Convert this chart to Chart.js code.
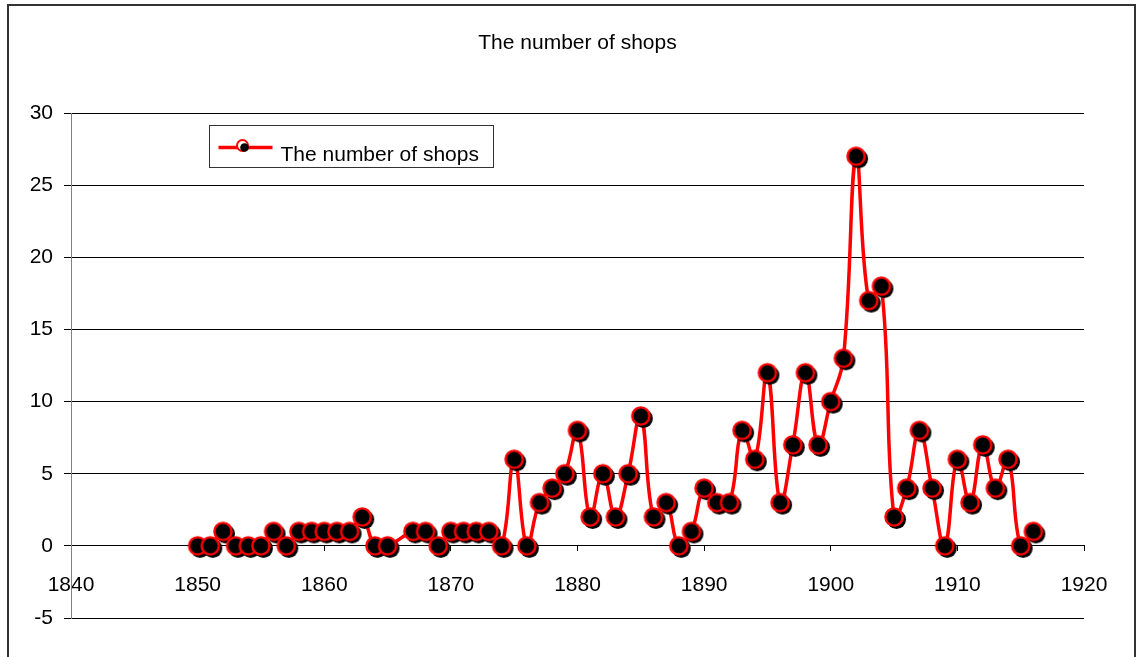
<!DOCTYPE html>
<html lang="en">
<head>
  <meta charset="UTF-8">
  <title>The number of shops</title>
  <script src="https://cdn.jsdelivr.net/npm/chart.js"></script>
  <style>
    html, body { margin: 0; padding: 0; background: #fff; overflow: hidden; }
    .frame { position: absolute; left: 7px; top: 4px; width: 1129px; height: 720px; border: 2px solid #333; box-sizing: border-box; }
    canvas { position: absolute; left: 0; top: 0; }
  </style>
</head>
<body>
  <div class="frame"></div>
  <canvas id="grafico" width="1139" height="657"></canvas>

  <script>
    // yearly counts, 1866 has no entry in the source
    const anos = [
      1850, 1851, 1852, 1853, 1854, 1855, 1856, 1857, 1858, 1859,
      1860, 1861, 1862, 1863, 1864, 1865, 1866, 1867, 1868, 1869,
      1870, 1871, 1872, 1873, 1874, 1875, 1876, 1877, 1878, 1879,
      1880, 1881, 1882, 1883, 1884, 1885, 1886, 1887, 1888, 1889,
      1890, 1891, 1892, 1893, 1894, 1895, 1896, 1897, 1898, 1899,
      1900, 1901, 1902, 1903, 1904, 1905, 1906, 1907, 1908, 1909,
      1910, 1911, 1912, 1913, 1914, 1915, 1916
    ];
    const lojas = [
      0, 0, 1, 0, 0, 0, 1, 0, 1, 1,
      1, 1, 1, 2, 0, 0, null, 1, 1, 0,
      1, 1, 1, 1, 0, 6, 0, 3, 4, 5,
      8, 2, 5, 2, 5, 9, 2, 3, 0, 1,
      4, 3, 3, 8, 6, 12, 3, 7, 12, 7,
      10, 13, 27, 17, 18, 2, 4, 8, 4, 0,
      6, 3, 7, 4, 6, 0, 1
    ];
    const titulo = 'The number of shops';
    const serieNome = 'The number of shops';
    const yTicks = [-5, 0, 5, 10, 15, 20, 25, 30];
    const xTicks = [1840, 1850, 1860, 1870, 1880, 1890, 1900, 1910, 1920];

    const fonte = 'Arial, "Liberation Sans", sans-serif';

    // marker: black disc with red ring and a dark shadow to the lower right
    function criarMarcador() {
      const c = document.createElement('canvas');
      c.width = 30; c.height = 30;
      const g = c.getContext('2d');
      g.fillStyle = '#000';
      g.beginPath(); g.arc(17.5, 17.5, 9.5, 0, Math.PI * 2); g.fill();
      g.beginPath(); g.arc(15, 15, 8.6, 0, Math.PI * 2);
      g.fillStyle = '#000'; g.fill();
      g.lineWidth = 2.4; g.strokeStyle = '#ff0000'; g.stroke();
      return c;
    }

    const legendaPlugin = {
      id: 'legendaCaixa',
      afterDraw(chart) {
        const ctx = chart.ctx;
        const ca = chart.chartArea;
        const x = Math.round(ca.left) + 138.5, y = Math.round(ca.top) + 12.5;
        ctx.save();
        ctx.fillStyle = '#fff';
        ctx.fillRect(x, y, 284, 42);
        ctx.strokeStyle = '#333';
        ctx.lineWidth = 1;
        ctx.strokeRect(x, y, 284, 42);
        ctx.strokeStyle = '#ff0000';
        ctx.lineWidth = 3.5;
        ctx.beginPath(); ctx.moveTo(x + 9, y + 22); ctx.lineTo(x + 63, y + 22); ctx.stroke();
        ctx.beginPath(); ctx.arc(x + 33, y + 20, 5.5, 0, Math.PI * 2);
        ctx.fillStyle = '#fff'; ctx.fill();
        ctx.lineWidth = 2; ctx.stroke();
        ctx.fillStyle = '#000';
        ctx.beginPath(); ctx.arc(x + 35, y + 22, 4.3, 0, Math.PI * 2); ctx.fill();
        ctx.font = '21px ' + fonte;
        ctx.textBaseline = 'alphabetic';
        ctx.textAlign = 'left';
        ctx.fillText(chart.data.datasets[0].label, x + 71, y + 35);
        ctx.restore();
      }
    };

    const ctx = document.getElementById('grafico').getContext('2d');
    const chart = new Chart(ctx, {
      type: 'line',
      data: {
        datasets: [{
          label: serieNome,
          data: anos.map((a, i) => ({ x: a, y: lojas[i] })),
          borderColor: '#ff0000',
          borderWidth: 3.5,
          tension: 0.42,
          spanGaps: true,
          pointStyle: criarMarcador(),
          pointRadius: 9,
          pointHoverRadius: 9
        }]
      },
      options: {
        responsive: false,
        animation: false,
        devicePixelRatio: 1,
        layout: { padding: { left: 0, right: 55, top: 0, bottom: 39 } },
        plugins: {
          legend: { display: false },
          tooltip: { enabled: false },
          title: {
            display: true,
            text: titulo,
            fullSize: false,
            color: '#000',
            font: { family: fonte, size: 21, weight: 'normal', lineHeight: '25px' },
            padding: { top: 31, bottom: 57 }
          }
        },
        scales: {
          x: {
            type: 'linear',
            position: { y: 0 },
            min: xTicks[0],
            max: xTicks[xTicks.length - 1],
            afterBuildTicks: s => { s.ticks = xTicks.map(v => ({ value: v })); },
            ticks: {
              color: '#000', font: { family: fonte, size: 21 }, padding: 22,
              maxRotation: 0, autoSkip: false,
              callback: v => String(v)
            },
            grid: { drawOnChartArea: false, color: '#000', tickLength: 5 },
            border: { color: '#000', width: 1 }
          },
          y: {
            min: yTicks[0],
            max: yTicks[yTicks.length - 1],
            afterBuildTicks: s => { s.ticks = yTicks.map(v => ({ value: v })); },
            afterFit: s => { s.width = 71; },
            ticks: { color: '#000', font: { family: fonte, size: 21 }, padding: 11, callback: v => String(v) },
            grid: { color: '#000', tickLength: 7 },
            border: { color: '#808080', width: 1 }
          }
        }
      },
      plugins: [legendaPlugin]
    });
  </script>
</body>
</html>
